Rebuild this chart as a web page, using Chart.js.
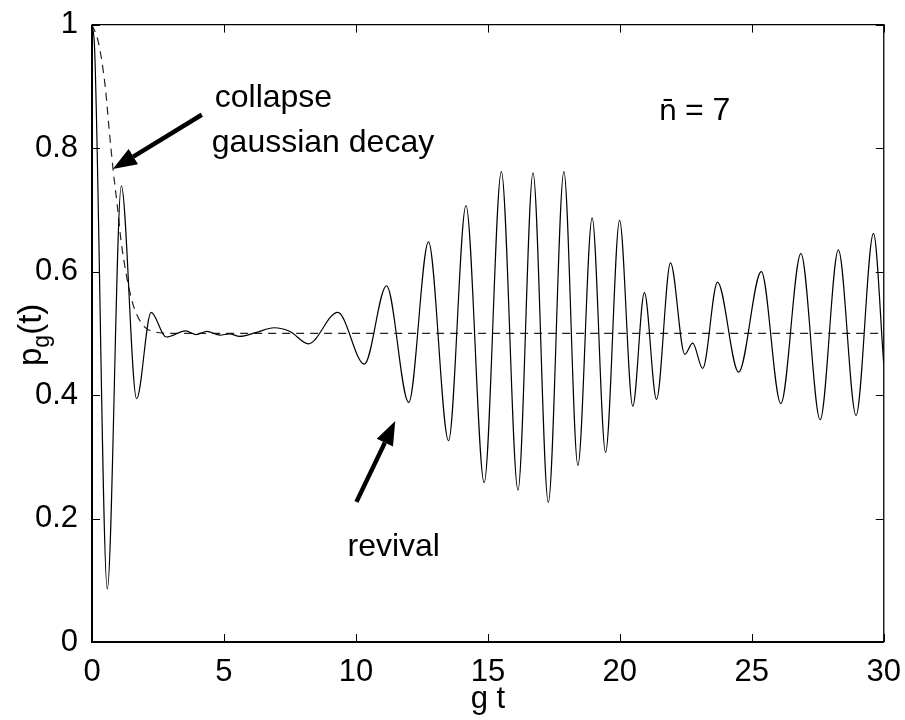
<!DOCTYPE html>
<html>
<head>
<meta charset="utf-8">
<script src="https://cdn.jsdelivr.net/npm/chart.js@4.4.1/dist/chart.umd.min.js"></script>
<style>
  html, body { margin: 0; padding: 0; background: #fff; }
  #wrap { width: 905px; height: 720px; }
</style>
</head>
<body>
<div id="wrap"><canvas id="c" width="905" height="720"></canvas></div>
<script>
// p_g(t) (extrema and a few points between them)
var gt = [0, 0.1, 0.58, 1.11, 1.69, 2.24, 2.81, 3.55, 3.95, 4.35, 4.85, 5.2, 5.6, 6.2, 6.9, 7.5, 8.2,
          9.31, 10.32, 11.16, 12.0, 12.75, 13.51, 14.17, 14.86, 15.51, 16.14, 16.71, 17.29, 17.88,
          18.41, 18.95, 19.46, 19.99, 20.49, 20.93, 21.39, 21.92, 22.46, 22.76, 23.14, 23.7, 24.5,
          25.36, 26.1, 26.86, 27.59, 28.28, 28.95, 29.61, 30];
var pg = [1.0, 0.96, 0.086, 0.739, 0.394, 0.534, 0.494, 0.504, 0.498, 0.503, 0.497, 0.499, 0.495, 0.501, 0.509, 0.503, 0.483,
          0.534, 0.450, 0.577, 0.388, 0.648, 0.326, 0.707, 0.258, 0.762, 0.246, 0.760, 0.226, 0.762,
          0.286, 0.687, 0.307, 0.683, 0.382, 0.566, 0.393, 0.614, 0.466, 0.484, 0.443, 0.583, 0.437,
          0.600, 0.386, 0.629, 0.360, 0.635, 0.367, 0.662, 0.45];

// dashed curve: gaussian decay down to 1/2
var envT = [0, 0.25, 0.5, 0.65, 0.8, 0.95, 1.1, 1.3, 1.5, 1.7, 2.0, 2.4, 3, 30];
var envP = [1.0, 0.97, 0.90, 0.83, 0.765, 0.71, 0.65, 0.595, 0.555, 0.53, 0.51, 0.502, 0.5, 0.5];

// ticks
var xTickVals = [0, 5, 10, 15, 20, 25, 30];
var xTickLabels = ["0", "5", "10", "15", "20", "25", "30"];
var yTickVals = [0, 0.2, 0.4, 0.6, 0.8, 1];
var yTickLabels = ["0", "0.2", "0.4", "0.6", "0.8", "1"];

var FONT = '"Liberation Sans", Arial, Helvetica, sans-serif';

// text and arrows, anchored in data units
var notes = [
  { text: "collapse", t: 4.65, p: 0.866 },
  { text: "gaussian decay", t: 4.54, p: 0.794 },
  { text: "revival", t: 9.68, p: 0.139 }
];
var nbar = { t: 21.47, p: 0.845 };
var arrows = [
  { from: [4.16, 0.854], to: [0.79, 0.766] },
  { from: [10.02, 0.227], to: [11.49, 0.358] }
];

function toXY(xs, ys) {
  return xs.map(function (x, i) { return { x: x, y: ys[i] }; });
}

var decor = {
  id: "decor",
  afterDatasetsDraw: function (chart) {
    var ctx = chart.ctx, a = chart.chartArea;
    var xs = chart.scales.x, ys = chart.scales.y;
    ctx.save();
    ctx.strokeStyle = "#000";

    // inward ticks on all four sides
    ctx.lineWidth = 1;
    ctx.beginPath();
    xTickVals.forEach(function (v) {
      var px = Math.round(xs.getPixelForValue(v)) + 0.5;
      ctx.moveTo(px, a.bottom); ctx.lineTo(px, a.bottom - 8);
      ctx.moveTo(px, a.top); ctx.lineTo(px, a.top + 8);
    });
    yTickVals.forEach(function (v) {
      var py = Math.round(ys.getPixelForValue(v)) + 0.5;
      ctx.moveTo(a.left, py); ctx.lineTo(a.left + 8, py);
      ctx.moveTo(a.right, py); ctx.lineTo(a.right - 8, py);
    });
    ctx.stroke();

    // box
    ctx.lineWidth = 1.3;
    ctx.beginPath();
    ctx.moveTo(a.left, a.top); ctx.lineTo(a.right, a.top); ctx.lineTo(a.right, a.bottom);
    ctx.stroke();
    ctx.lineWidth = 2;
    ctx.beginPath();
    ctx.moveTo(a.left, a.top); ctx.lineTo(a.left, a.bottom); ctx.lineTo(a.right, a.bottom);
    ctx.stroke();

    // annotations
    ctx.fillStyle = "#000";
    ctx.font = "32px " + FONT;
    ctx.textBaseline = "alphabetic";
    ctx.textAlign = "left";
    notes.forEach(function (n) {
      ctx.fillText(n.text, xs.getPixelForValue(n.t), ys.getPixelForValue(n.p));
    });

    // n-bar = 7
    var nx = xs.getPixelForValue(nbar.t), ny = ys.getPixelForValue(nbar.p);
    ctx.font = "29px \"DejaVu Sans\", sans-serif";
    ctx.fillText("n\u0304", nx, ny);
    var wn = ctx.measureText("n\u0304").width;
    ctx.font = "32px " + FONT;
    ctx.fillText(" = 7", nx + wn - 1, ny);

    arrows.forEach(function (ar) {
      var x0 = xs.getPixelForValue(ar.from[0]), y0 = ys.getPixelForValue(ar.from[1]);
      var x1 = xs.getPixelForValue(ar.to[0]), y1 = ys.getPixelForValue(ar.to[1]);
      var ang = Math.atan2(y1 - y0, x1 - x0);
      var hl = 24, hw = 9;
      var bx = x1 - hl * Math.cos(ang), by = y1 - hl * Math.sin(ang);
      ctx.lineWidth = 4.5;
      ctx.beginPath();
      ctx.moveTo(x0, y0); ctx.lineTo(bx, by);
      ctx.stroke();
      ctx.beginPath();
      ctx.moveTo(x1, y1);
      ctx.lineTo(bx + hw * Math.sin(ang), by - hw * Math.cos(ang));
      ctx.lineTo(bx - hw * Math.sin(ang), by + hw * Math.cos(ang));
      ctx.closePath();
      ctx.fill();
    });

    // axis titles
    ctx.font = "31px " + FONT;
    ctx.textAlign = "center";
    ctx.fillText("g t", (a.left + a.right) / 2, 708);

    ctx.translate(41, 366);
    ctx.rotate(-Math.PI / 2);
    ctx.textAlign = "left";
    ctx.font = "33px " + FONT;
    ctx.fillText("p", 0, 0);
    var w1 = ctx.measureText("p").width;
    ctx.font = "23px " + FONT;
    ctx.fillText("g", w1, 8);
    var w2 = ctx.measureText("g").width;
    ctx.font = "33px " + FONT;
    ctx.fillText("(t)", w1 + w2, 0);
    ctx.restore();
  }
};

var ctx = document.getElementById("c");
var chart = new Chart(ctx, {
  type: "scatter",
  data: {
    datasets: [
      {
        label: "p_g(t)",
        data: toXY(gt, pg),
        showLine: true,
        borderColor: "#000",
        borderWidth: 1.2,
        pointRadius: 0,
        cubicInterpolationMode: "monotone",
        fill: false
      },
      {
        label: "envelope",
        data: toXY(envT, envP),
        showLine: true,
        borderColor: "#222",
        borderWidth: 1.2,
        borderDash: [8, 6],
        pointRadius: 0,
        cubicInterpolationMode: "monotone",
        fill: false
      }
    ]
  },
  options: {
    responsive: false,
    animation: false,
    events: [],
    layout: { padding: { left: 0, right: 19, top: 17, bottom: 0 } },
    plugins: { legend: { display: false }, tooltip: { enabled: false } },
    scales: {
      x: {
        type: "linear",
        min: 0, max: 30,
        afterBuildTicks: function (s) { s.ticks = xTickVals.map(function (v) { return { value: v }; }); },
        afterFit: function (s) { s.height = 78; },
        grid: { display: false },
        border: { display: false },
        ticks: {
          padding: 4,
          color: "#000",
          font: { family: FONT, size: 31 },
          maxRotation: 0,
          callback: function (v, i) { return xTickLabels[i]; }
        }
      },
      y: {
        type: "linear",
        min: 0, max: 1,
        afterBuildTicks: function (s) { s.ticks = yTickVals.map(function (v) { return { value: v }; }); },
        afterFit: function (s) { s.width = 92; },
        grid: { display: false },
        border: { display: false },
        ticks: {
          padding: 6,
          color: "#000",
          font: { family: FONT, size: 31 },
          callback: function (v, i) { return yTickLabels[i]; }
        }
      }
    }
  },
  plugins: [decor]
});
</script>
</body>
</html>
